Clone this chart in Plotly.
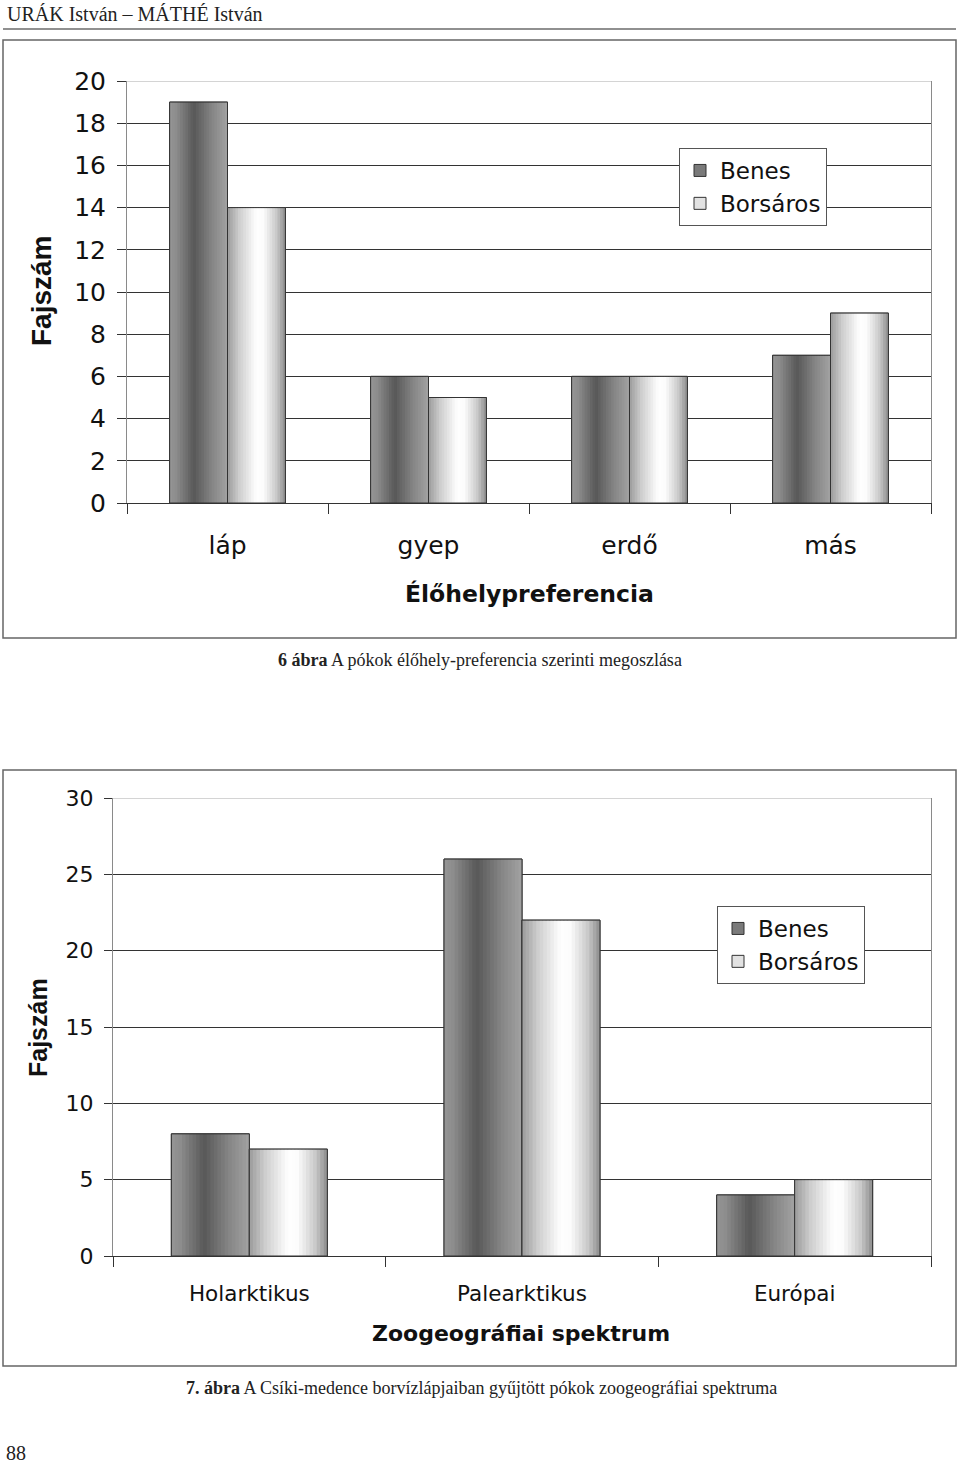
import plotly.graph_objects as go

# ---------------- data ----------------
series_names = ["Benes", "Borsáros"]

habitat_categories = ["láp", "gyep", "erdő", "más"]
habitat_benes = [19, 6, 6, 7]
habitat_borsaros = [14, 5, 6, 9]
habitat_yticks = [0, 2, 4, 6, 8, 10, 12, 14, 16, 18, 20]

zoo_categories = ["Holarktikus", "Palearktikus", "Európai"]
zoo_benes = [8, 26, 4]
zoo_borsaros = [7, 22, 5]
zoo_yticks = [0, 5, 10, 15, 20, 25, 30]

header_text = "URÁK István – MÁTHÉ István"
caption1 = "<b>6 ábra</b> A pókok élőhely-preferencia szerinti megoszlása"
caption2 = "<b>7. ábra</b> A Csíki-medence borvízlápjaiban gyűjtött pókok zoogeográfiai spektruma"
page_number = "88"
habitat_xtitle = "Élőhelypreferencia"
zoo_xtitle = "Zoogeográfiai spektrum"
ytitle = "Fajszám"

# ---------------- style ----------------
W, H = 960, 1464
SANS = "DejaVu Sans, Liberation Sans, sans-serif"
SANS2 = "Liberation Sans, Arial, sans-serif"
SERIF = "Liberation Serif, DejaVu Serif, serif"
N_SLICES = 22

# gray-level profiles across a bar (position 0..1 -> gray 0..255)
profiles = {
    "Benes": [(0.0, 150), (0.12, 140), (0.42, 88), (0.75, 135), (1.0, 162)],
    "Borsáros": [(0.0, 155), (0.2, 205), (0.5, 255), (0.62, 252), (0.85, 200), (1.0, 140)],
}
legend_fill = {"Benes": "#7a7a7a", "Borsáros": "#e2e2e2"}


def gray_at(profile, t):
    for (p0, g0), (p1, g1) in zip(profile, profile[1:]):
        if p0 <= t <= p1:
            g = g0 + (g1 - g0) * (t - p0) / (p1 - p0)
            g = int(round(g))
            return f"rgb({g},{g},{g})"
    g = profile[-1][1]
    return f"rgb({g},{g},{g})"


def px_x(v):
    return v / W


def px_y(v):
    return 1 - v / H


fig = go.Figure()


def add_series(cats, vals, name, side, bw, xa, ya, legend):
    start = -bw if side == 0 else 0.0
    # base bar (legend entry)
    fig.add_trace(go.Bar(
        x=cats, y=vals, name=name, offset=start, width=bw,
        marker=dict(color=legend_fill[name], line=dict(color="#333", width=1)),
        xaxis=xa, yaxis=ya, legend=legend, showlegend=True, hoverinfo="skip",
    ))
    d = bw / N_SLICES
    for i in range(N_SLICES):
        x0 = start + i * d
        wdt = min(d * 1.6, start + bw - x0)
        fig.add_trace(go.Bar(
            x=cats, y=vals, offset=x0, width=wdt,
            marker=dict(color=gray_at(profiles[name], (i + 0.5) / N_SLICES), line=dict(width=0)),
            xaxis=xa, yaxis=ya, showlegend=False, hoverinfo="skip",
        ))
    # outline on top
    fig.add_trace(go.Bar(
        x=cats, y=vals, offset=start, width=bw,
        marker=dict(color="rgba(0,0,0,0)", line=dict(color="#333", width=1)),
        xaxis=xa, yaxis=ya, showlegend=False, hoverinfo="skip",
    ))


add_series(habitat_categories, habitat_benes, series_names[0], 0, 0.288, "x", "y", "legend")
add_series(habitat_categories, habitat_borsaros, series_names[1], 1, 0.288, "x", "y", "legend")
add_series(zoo_categories, zoo_benes, series_names[0], 0, 0.286, "x2", "y2", "legend2")
add_series(zoo_categories, zoo_borsaros, series_names[1], 1, 0.286, "x2", "y2", "legend2")

xcommon = dict(type="category", tickson="boundaries", ticks="outside", ticklen=10,
               tickcolor="#333", showline=True, linecolor="#333", linewidth=1,
               showgrid=False, zeroline=False, automargin=False, fixedrange=True)
ycommon = dict(ticks="outside", tickcolor="#333", showline=True, linecolor="#8a8a8a",
               linewidth=1, mirror=True, showgrid=True, gridcolor="#333", gridwidth=1,
               zeroline=False, automargin=False, fixedrange=True)

fig.update_layout(
    width=W, height=H, margin=dict(l=0, r=0, t=0, b=0),
    paper_bgcolor="white", plot_bgcolor="white", barmode="overlay",
    xaxis=dict(**xcommon, domain=[px_x(127), px_x(931)], anchor="y",
               range=[-0.5, len(habitat_categories) - 0.5],
               tickfont=dict(family=SANS, size=25, color="#111"), ticklabelstandoff=20),
    yaxis=dict(**ycommon, domain=[px_y(503), px_y(81)], anchor="x",
               range=[0, 20], tickvals=habitat_yticks, ticklen=9,
               tickfont=dict(family=SANS, size=25, color="#111"), ticklabelstandoff=6),
    xaxis2=dict(**xcommon, domain=[px_x(113), px_x(931)], anchor="y2",
                range=[-0.5, len(zoo_categories) - 0.5],
                tickfont=dict(family=SANS, size=21.5, color="#111"), ticklabelstandoff=18),
    yaxis2=dict(**ycommon, domain=[px_y(1256), px_y(798)], anchor="x2",
                range=[0, 30], tickvals=zoo_yticks, ticklen=8,
                tickfont=dict(family=SANS, size=22, color="#111"), ticklabelstandoff=6),
    legend=dict(x=px_x(679), y=px_y(148), xanchor="left", yanchor="top",
                bordercolor="#555", borderwidth=1, bgcolor="white",
                font=dict(family=SANS, size=23, color="#111"), itemwidth=30,
                tracegroupgap=0, traceorder="normal"),
    legend2=dict(x=px_x(717), y=px_y(906), xanchor="left", yanchor="top",
                 bordercolor="#555", borderwidth=1, bgcolor="white",
                 font=dict(family=SANS, size=23, color="#111"), itemwidth=30,
                 tracegroupgap=0, traceorder="normal"),
    showlegend=True,
)

shapes = []
# header rule
shapes.append(dict(type="line", xref="paper", yref="paper", x0=px_x(3), x1=px_x(956),
                   y0=px_y(29), y1=px_y(29), line=dict(color="#222", width=1.2)))
# chart frames
for top, bot in [(40, 638), (770, 1366)]:
    shapes.append(dict(type="rect", xref="paper", yref="paper", x0=px_x(3), x1=px_x(956),
                       y0=px_y(bot), y1=px_y(top), line=dict(color="#666", width=1.5)))
# light top gridlines (plot-area border)
shapes.append(dict(type="line", xref="x domain", yref="y", x0=0, x1=1, y0=20, y1=20,
                   layer="above", line=dict(color="#aaa", width=1)))
shapes.append(dict(type="line", xref="x2 domain", yref="y2", x0=0, x1=1, y0=30, y1=30,
                   layer="above", line=dict(color="#aaa", width=1)))
fig.update_layout(shapes=shapes)

ann = []
ann.append(dict(text=header_text, x=px_x(5), y=px_y(14), xref="paper", yref="paper",
                xanchor="left", yanchor="middle", showarrow=False,
                font=dict(family=SERIF, size=20, color="#222")))
ann.append(dict(text=caption1, x=px_x(480), y=px_y(660), xref="paper", yref="paper",
                xanchor="center", yanchor="middle", showarrow=False,
                font=dict(family=SERIF, size=18, color="#222")))
ann.append(dict(text=caption2, x=px_x(481), y=px_y(1388), xref="paper", yref="paper",
                xanchor="center", yanchor="middle", showarrow=False,
                font=dict(family=SERIF, size=18, color="#222")))
ann.append(dict(text=page_number, x=px_x(4), y=px_y(1453), xref="paper", yref="paper",
                xanchor="left", yanchor="middle", showarrow=False,
                font=dict(family=SERIF, size=20, color="#222")))
# axis titles
ann.append(dict(text="<b>" + habitat_xtitle + "</b>", x=px_x(529), y=px_y(594),
                xref="paper", yref="paper", xanchor="center", yanchor="middle",
                showarrow=False, font=dict(family=SANS, size=23.5, color="#111")))
ann.append(dict(text="<b>" + ytitle + "</b>", x=px_x(42), y=px_y(291),
                xref="paper", yref="paper", xanchor="center", yanchor="middle", textangle=-90,
                showarrow=False, font=dict(family=SANS2, size=28, color="#111")))
ann.append(dict(text="<b>" + zoo_xtitle + "</b>", x=px_x(521), y=px_y(1333),
                xref="paper", yref="paper", xanchor="center", yanchor="middle",
                showarrow=False, font=dict(family=SANS, size=22, color="#111")))
ann.append(dict(text="<b>" + ytitle + "</b>", x=px_x(38), y=px_y(1028),
                xref="paper", yref="paper", xanchor="center", yanchor="middle", textangle=-90,
                showarrow=False, font=dict(family=SANS2, size=25, color="#111")))
fig.update_layout(annotations=ann)

fig.write_html(
    "out.html",
    config={"displayModeBar": False},
    post_script="document.body.style.margin='0';document.body.style.overflow='hidden';",
)
